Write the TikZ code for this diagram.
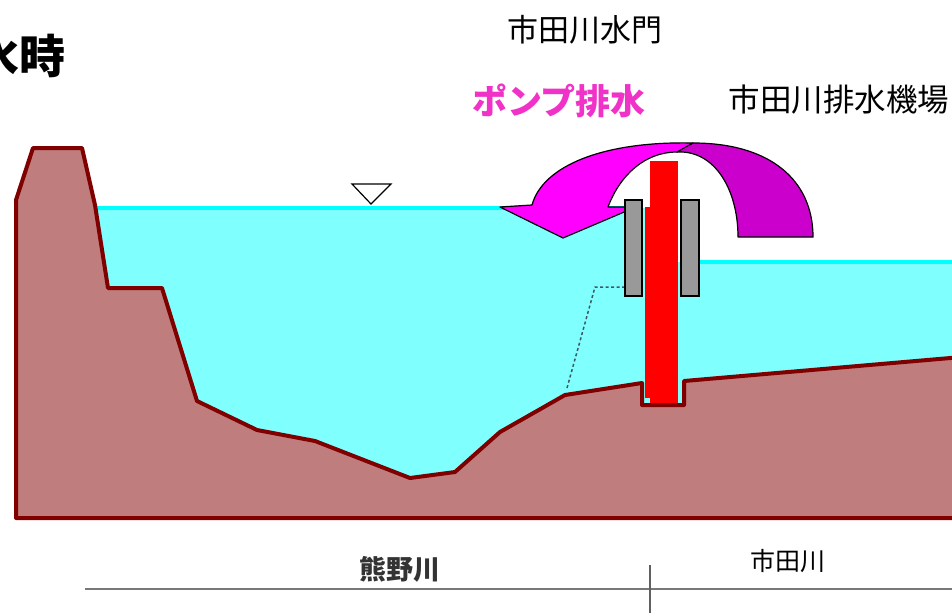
\documentclass[tikz,border=0pt]{standalone}
\usepackage{fontspec}
\newfontfamily\jp{Noto Sans CJK JP}
\definecolor{soil}{RGB}{191,125,125}
\definecolor{soilline}{RGB}{128,0,0}
\definecolor{water}{RGB}{128,255,255}
\definecolor{surface}{RGB}{0,255,255}
\definecolor{pumpred}{RGB}{255,0,0}
\definecolor{gategray}{RGB}{153,153,153}
\definecolor{flowfront}{RGB}{255,0,255}
\definecolor{flowback}{RGB}{204,0,204}
\definecolor{pumptext}{RGB}{240,50,200}
\definecolor{dotcol}{RGB}{60,90,100}
\definecolor{rulegray}{RGB}{120,120,120}
\tikzset{
  ground/.style={fill=soil, draw=soilline, line width=4pt, line join=round},
  wsurf/.style={draw=surface, line width=4pt},
  gatebox/.style={fill=gategray, draw=black, line width=1.2pt},
  flow/.style={draw=black, line width=1.2pt, line join=round},
  label/.style={inner sep=0pt, font=\jp},
}
\begin{document}
\begin{tikzpicture}[x=1pt,y=-1pt]
\useasboundingbox (0,0) rectangle (952,613);
\clip (0,0) rectangle (952,613);
\fill[white] (0,0) rectangle (952,613);

% water bodies
\fill[water] (90,208) rectangle (648,500);
\fill[water] (648,262) rectangle (960,420);
\draw[wsurf] (95,208) -- (626,208);
\draw[wsurf] (699,262) -- (960,262);

% former bank line
\draw[dotcol, line width=1.5pt, dash pattern=on 3pt off 2.5pt] (567,388) -- (595,287) -- (625,287);

% ground section
\draw[ground] (16,518) -- (16,200) -- (33,148) -- (82,148) -- (95,205) -- (108,288)
  -- (162,288) -- (197,401) -- (257,430) -- (315,441) -- (410,478) -- (455,472)
  -- (500,432) -- (565,395) -- (642,383) -- (642,405) -- (684,405) -- (684,381)
  -- (962,357) -- (962,518) -- cycle;

% pumped flow arrow (back half, then front half)
\filldraw[flow, fill=flowback] (677,152) .. controls (715,150) and (738,190) .. (738,237)
  -- (813,237) .. controls (813,180) and (770,143) .. (693,143)
  .. controls (686,146) .. (677,152) -- cycle;
\filldraw[flow, fill=flowfront] (693,143) .. controls (605,141) and (543,165) .. (532,205)
  -- (500,207) -- (563,238) -- (636,207) -- (608,207)
  .. controls (620,175) and (645,152) .. (677,152)
  .. controls (684,148) .. (693,143) -- cycle;

% gate and pump
\draw[gatebox] (625,200) rectangle (642,296);
\draw[gatebox] (681,200) rectangle (699,296);
\fill[pumpred] (645,207) rectangle (651,398);
\fill[pumpred] (650,161) rectangle (678,403);

% water level mark
\draw[fill=white, line width=1.2pt, line join=miter] (352,184) -- (391,184) -- (371,204) -- cycle;

% section rulers
\draw[rulegray, line width=2.5pt] (85,589) -- (960,589);
\draw[rulegray!80!black, line width=1.5pt] (650,565) -- (650,613);

% labels
\node[label, font=\jp\bfseries\fontsize{46}{50}\selectfont] (title) at (20,56) {水時};
\node[label, font=\jp\fontsize{31}{34}\selectfont] (gate) at (585,30) {市田川水門};
\node[label, font=\jp\bfseries\fontsize{35}{38}\selectfont, text=pumptext] (pump) at (559,101) {ポンプ排水};
\node[label, font=\jp\fontsize{31.5}{34}\selectfont] (station) at (839,100) {市田川排水機場};
\node[label, font=\jp\bfseries\fontsize{27}{30}\selectfont, text=black!80] (kumano) at (400,569) {熊野川};
\node[label, font=\jp\fontsize{25}{28}\selectfont] (ichida) at (788,561) {市田川};
\end{tikzpicture}
\end{document}
